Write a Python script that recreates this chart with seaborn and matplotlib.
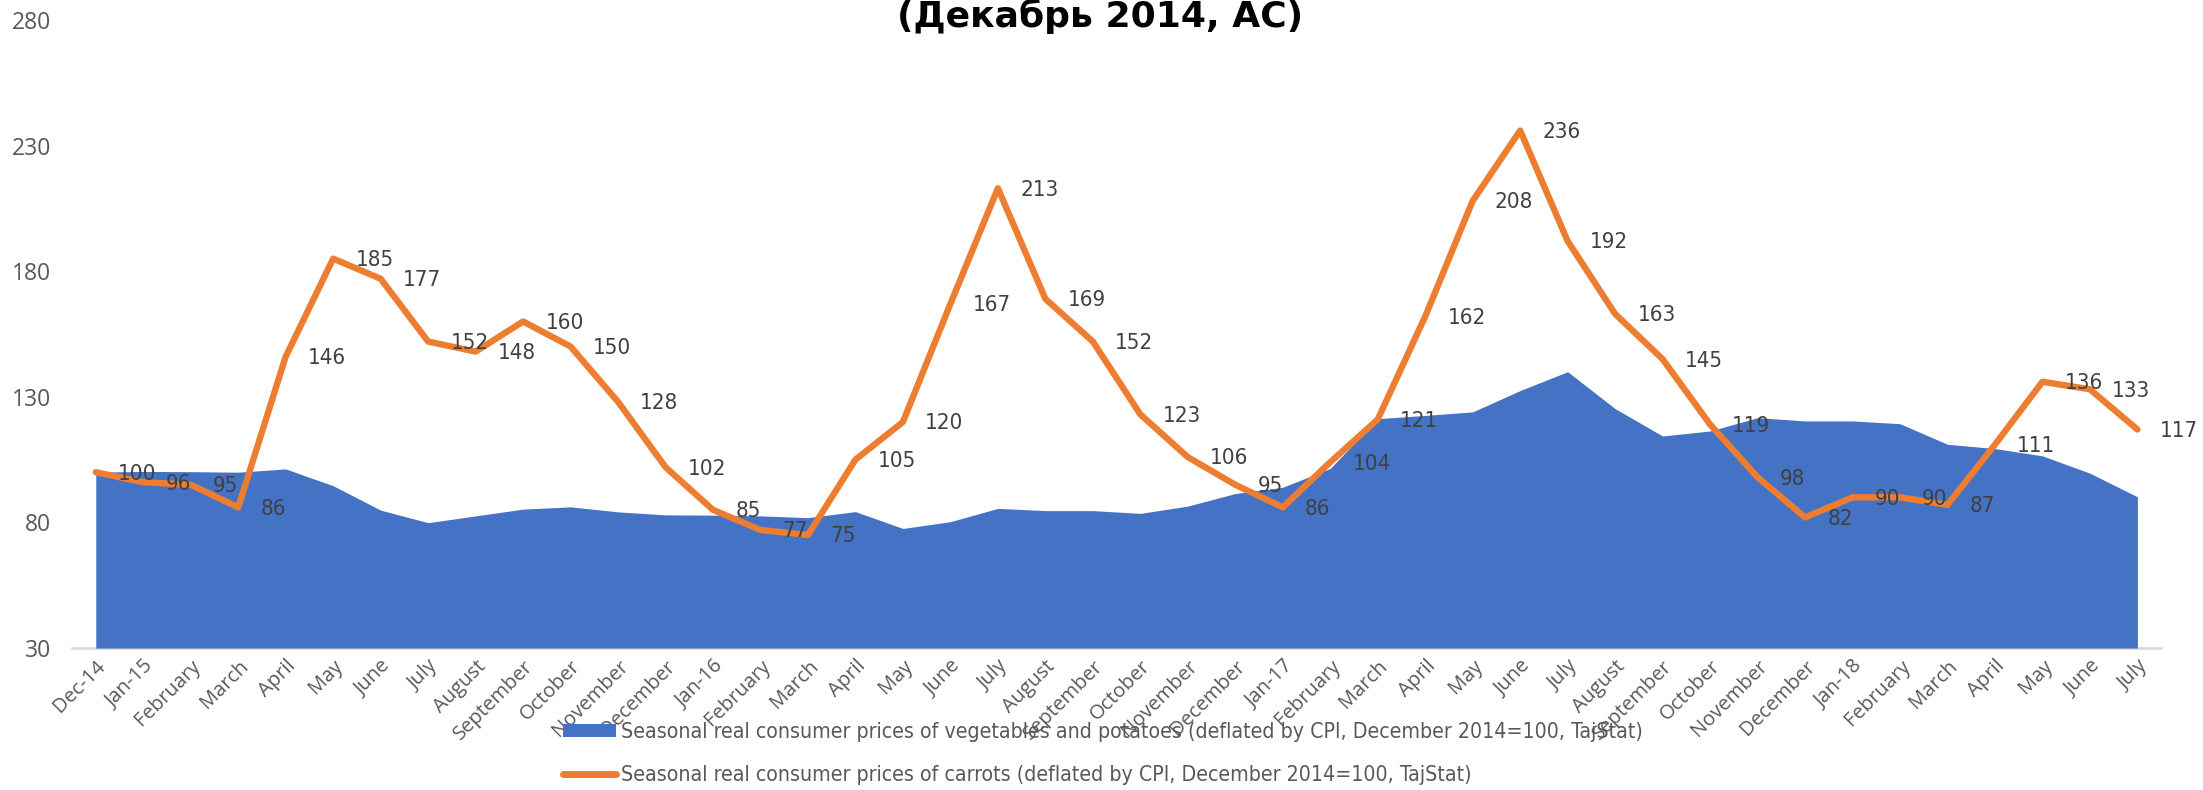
import matplotlib
matplotlib.use("Agg")
import matplotlib.pyplot as plt
from matplotlib import font_manager
from matplotlib.patches import Patch
from matplotlib.lines import Line2D
import seaborn as sns
import pandas as pd
import numpy as np

# Month labels, Dec 2014 to Jul 2018
months = [
    "Dec-14", "Jan-15", "February", "March", "April", "May", "June", "July",
    "August", "September", "October", "November", "December",
    "Jan-16", "February", "March", "April", "May", "June", "July",
    "August", "September", "October", "November", "December",
    "Jan-17", "February", "March", "April", "May", "June", "July",
    "August", "September", "October", "November", "December",
    "Jan-18", "February", "March", "April", "May", "June", "July",
]

# Seasonal real consumer prices of vegetables and potatoes (Dec 2014 = 100)
veg_potatoes = [
    100.0, 100.3, 100.2, 100.0, 101.3, 94.6, 84.9, 79.9, 82.6, 85.3,
    86.2, 84.2, 83.0, 82.9, 82.6, 81.9, 84.3, 77.6, 80.3, 85.6,
    84.7, 84.7, 83.6, 86.5, 91.5, 94.0, 101.5, 121.3, 122.6, 124.0,
    132.5, 140.0, 125.3, 114.4, 116.4, 121.7, 120.4, 120.4, 119.3, 111.1,
    109.4, 106.5, 99.6, 90.2,
]

# Seasonal real consumer prices of carrots (Dec 2014 = 100)
carrots = [
    100, 96, 95, 86, 146, 185, 177, 152, 148, 160,
    150, 128, 102, 85, 77, 75, 105, 120, 167, 213,
    169, 152, 123, 106, 95, 86, 104, 121, 162, 208,
    236, 192, 163, 145, 119, 98, 82, 90, 90, 87,
    111, 136, 133, 117,
]

y_ticks = [30, 80, 130, 180, 230, 280]

veg_label = ("Seasonal real consumer prices of vegetables and potatoes "
             "(deflated by CPI, December 2014=100, TajStat)")
carrot_label = ("Seasonal real consumer prices of carrots "
                "(deflated by CPI, December 2014=100, TajStat)")
title_text = "(Декабрь 2014, АС)"

BLUE = "#4472C4"
ORANGE = "#ED7D31"
GREY_TXT = "#595959"
DARK_TXT = "#404040"

sns.set_theme(style="white")
plt.rcParams["font.family"] = ["DejaVu Sans"]

installed = {f.name for f in font_manager.fontManager.ttflist}
has_condensed = any(f.name == "DejaVu Sans" and f.stretch == "condensed"
                    for f in font_manager.fontManager.ttflist)
tickfont = "Open Sans" if "Open Sans" in installed else "DejaVu Sans"

# Narrow face for the value labels and the legend
if has_condensed:
    narrow_props = dict(family="DejaVu Sans", stretch="condensed")
    label_size, legend_size = 16.0, 15.3
else:
    narrow_props = dict(family="DejaVu Sans")
    label_size, legend_size = 14.5, 13.8

df = pd.DataFrame({
    "idx": np.arange(len(months)),
    "month": months,
    "veg": veg_potatoes,
    "carrots": carrots,
})

fig = plt.figure(figsize=(22.03, 7.9), dpi=100)
ax = fig.add_axes([0.0327, 0.1797, 0.9483, 0.795])

# Area for vegetables and potatoes, filled from the axis floor
ax.fill_between(df["idx"], 30, df["veg"], color=BLUE, linewidth=0, zorder=2)

# Carrot price line
sns.lineplot(data=df, x="idx", y="carrots", ax=ax, color=ORANGE,
             linewidth=4.6, zorder=3, legend=False)
for ln in ax.lines:
    ln.set_solid_capstyle("round")
    ln.set_solid_joinstyle("round")

# Value labels to the right of each carrot point
for i, v in enumerate(carrots):
    ax.annotate(f"{v}", (i, v), xytext=(16, -1), textcoords="offset points",
                ha="left", va="center", fontsize=label_size, color=DARK_TXT,
                zorder=4, **narrow_props)

ax.set_xlim(-0.5, len(months) - 0.5)
ax.set_ylim(30, 280)
ax.set_yticks(y_ticks)
ax.set_yticklabels([str(t) for t in y_ticks], fontsize=16.5, color=GREY_TXT,
                   family=[tickfont, "DejaVu Sans"])
ax.set_xticks(df["idx"])
ax.set_xticklabels(months, rotation=45, ha="right", rotation_mode="anchor",
                   fontsize=14.5, color=GREY_TXT, family=[tickfont, "DejaVu Sans"])
ax.tick_params(axis="x", length=0, pad=6)
ax.tick_params(axis="y", length=0, pad=15)
ax.set_xlabel("")
ax.set_ylabel("")

for side in ["top", "right", "left"]:
    ax.spines[side].set_visible(False)
ax.spines["bottom"].set_color("#D9D9D9")
ax.spines["bottom"].set_linewidth(1.8)
ax.spines["bottom"].set_zorder(1)

# Legend below the plot
handles = [
    Patch(facecolor=BLUE, edgecolor="none", label=veg_label),
    Line2D([0], [0], color=ORANGE, linewidth=5, solid_capstyle="round", label=carrot_label),
]
leg = fig.legend(handles=handles, loc="upper left",
                 bbox_to_anchor=(563 / 2203, 1 - 722 / 790),
                 frameon=False, handlelength=2.5, handleheight=0.6,
                 handletextpad=0.25, labelspacing=1.1, borderaxespad=0,
                 borderpad=0,
                 prop=dict(size=legend_size, **narrow_props))
for t in leg.get_texts():
    t.set_color(GREY_TXT)

fig.text(1100 / 2203, 1 - 27 / 790, title_text, ha="center", va="baseline",
         fontsize=26, fontweight="bold", color="black")

fig.savefig("out.png", dpi=100)
